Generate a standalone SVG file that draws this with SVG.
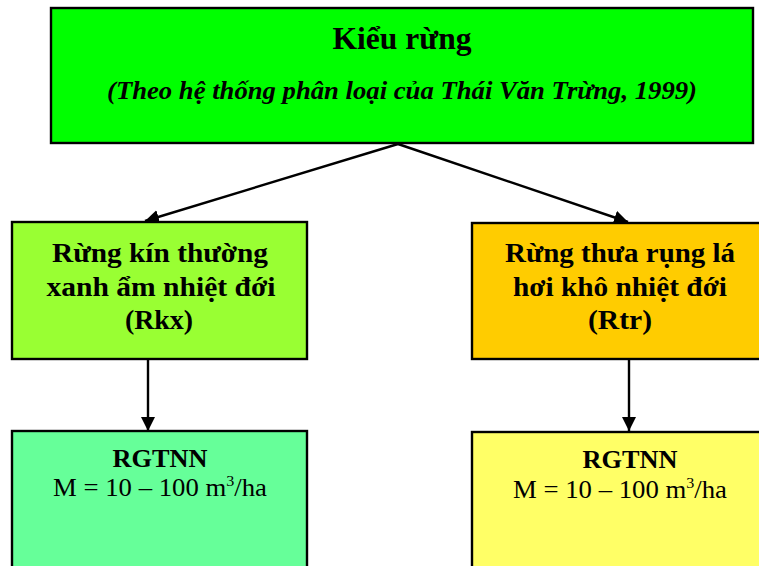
<svg xmlns="http://www.w3.org/2000/svg" width="759" height="566" viewBox="0 0 759 566">
  <style>
    .box { stroke: #000; stroke-width: 2.4; }
    .t { font-family: "Liberation Serif", "Times New Roman", serif; fill: #000; text-anchor: middle; }
    .b { font-weight: bold; }
    .i { font-style: italic; }
    .conn { stroke: #000; stroke-width: 2.4; fill: none; marker-end: url(#arrow); }
  </style>
  <defs>
    <marker id="arrow" viewBox="0 0 14 14" refX="14" refY="7" markerWidth="14" markerHeight="14" markerUnits="userSpaceOnUse" orient="auto">
      <path d="M0,0 L14,7 L0,14 Z" fill="#000"/>
    </marker>
  </defs>
  <rect width="759" height="566" fill="#fff"/>

  <g id="connectors">
    <line class="conn" x1="398" y1="144" x2="145" y2="221"/>
    <line class="conn" x1="398" y1="144" x2="628" y2="222"/>
    <line class="conn" x1="148" y1="359" x2="148" y2="431"/>
    <line class="conn" x1="629" y1="359" x2="629" y2="431"/>
  </g>

  <g id="kieu-rung">
    <rect class="box" x="51" y="8" width="702" height="135" fill="#00FF00"/>
    <text class="t b" x="402" y="49" font-size="32" textLength="139" lengthAdjust="spacingAndGlyphs">Kiểu rừng</text>
    <text class="t b i" x="402" y="99" font-size="26" textLength="590" lengthAdjust="spacingAndGlyphs">(Theo hệ thống phân loại của Thái Văn Trừng, 1999)</text>
  </g>

  <g id="rkx">
    <rect class="box" x="12" y="222" width="295" height="137" fill="#99FF33"/>
    <text class="t b" x="160" y="262" font-size="27" textLength="216" lengthAdjust="spacingAndGlyphs">Rừng kín thường</text>
    <text class="t b" x="161" y="296" font-size="27" textLength="229" lengthAdjust="spacingAndGlyphs">xanh ẩm nhiệt đới</text>
    <text class="t b" x="159" y="329" font-size="27" textLength="68" lengthAdjust="spacingAndGlyphs">(Rkx)</text>
  </g>

  <g id="rtr">
    <rect class="box" x="472" y="223" width="300" height="136" fill="#FFCC00"/>
    <text class="t b" x="620" y="262" font-size="27" textLength="230" lengthAdjust="spacingAndGlyphs">Rừng thưa rụng lá</text>
    <text class="t b" x="620" y="296" font-size="27" textLength="214" lengthAdjust="spacingAndGlyphs">hơi khô nhiệt đới</text>
    <text class="t b" x="620" y="329" font-size="27" textLength="64" lengthAdjust="spacingAndGlyphs">(Rtr)</text>
  </g>

  <g id="rgtnn-rkx">
    <rect class="box" x="12" y="431" width="295" height="150" fill="#66FF99"/>
    <text class="t b" x="160" y="467" font-size="25" textLength="95" lengthAdjust="spacingAndGlyphs">RGTNN</text>
    <text class="t" x="160" y="496" font-size="25" textLength="214" lengthAdjust="spacingAndGlyphs">M = 10 – 100 m<tspan dy="-10" font-size="15">3</tspan><tspan dy="10">/ha</tspan></text>
  </g>

  <g id="rgtnn-rtr">
    <rect class="box" x="472" y="432" width="300" height="150" fill="#FFFF66"/>
    <text class="t b" x="630" y="468" font-size="25" textLength="95" lengthAdjust="spacingAndGlyphs">RGTNN</text>
    <text class="t" x="620" y="498" font-size="25" textLength="214" lengthAdjust="spacingAndGlyphs">M = 10 – 100 m<tspan dy="-10" font-size="15">3</tspan><tspan dy="10">/ha</tspan></text>
  </g>
</svg>
